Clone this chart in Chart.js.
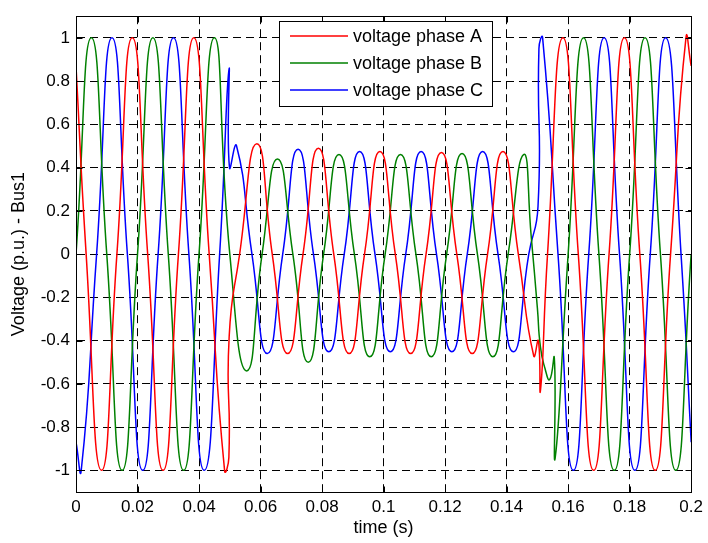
<!DOCTYPE html>
<html>
<head>
<meta charset="utf-8">
<title>Voltage - Bus1</title>
<script src="https://cdn.jsdelivr.net/npm/chart.js@4.4.0/dist/chart.umd.min.js"></script>
<style>
  html, body { margin: 0; padding: 0; background: #fff; }
  #chart { display: block; }
</style>
</head>
<body>
<canvas id="chart" width="708" height="543"></canvas>
<script>
// [time (s), voltage (p.u.)] at peaks, troughs and zero crossings of each phase
const phaseA = [
  [0, 0.87], [0.0033, 0], [0.0083, -1], [0.0133, 0], [0.0183, 1], [0.0233, 0],
  [0.0283, -1], [0.0333, 0], [0.0383, 1], [0.0433, 0], [0.0483, -1], [0.0497, -0.94],
  [0.0498, -0.38], [0.0532, 0], [0.0588, 0.51], [0.0638, 0], [0.0688, -0.46],
  [0.0738, 0], [0.0788, 0.49], [0.0838, 0], [0.0888, -0.46], [0.0938, 0],
  [0.0988, 0.474], [0.1038, 0], [0.1088, -0.46], [0.1138, 0], [0.1188, 0.47],
  [0.1238, 0], [0.1288, -0.46], [0.1338, 0], [0.1388, 0.474], [0.1438, 0],
  [0.1488, -0.47], [0.1503, -0.40], [0.1510, -0.63], [0.1533, 0], [0.1583, 1],
  [0.1633, 0], [0.1683, -1], [0.1733, 0], [0.1783, 1], [0.1833, 0], [0.1883, -1],
  [0.1933, 0], [0.1983, 1], [0.2, 0.87]
];
const phaseB = [
  [0, 0], [0.005, 1], [0.01, 0], [0.015, -1], [0.02, 0], [0.025, 1], [0.03, 0],
  [0.035, -1], [0.04, 0], [0.045, 1], [0.05, 0], [0.0555, -0.54], [0.0605, 0],
  [0.0655, 0.44], [0.0705, 0], [0.0755, -0.50], [0.0805, 0], [0.0855, 0.46],
  [0.0905, 0], [0.0955, -0.475], [0.1005, 0], [0.1055, 0.46], [0.1105, 0],
  [0.1155, -0.475], [0.1205, 0], [0.1255, 0.465], [0.1305, 0], [0.1355, -0.475],
  [0.1405, 0], [0.1455, 0.46], [0.1480, 0.08], [0.1500, -0.25], [0.1510, -0.43],
  [0.1525, -0.53], [0.1540, -0.58], [0.1555, -0.48], [0.1558, -0.94], [0.16, 0],
  [0.165, 1], [0.17, 0], [0.175, -1], [0.18, 0], [0.185, 1], [0.19, 0], [0.195, -1],
  [0.2, 0]
];
const phaseC = [
  [0, -0.87], [0.0017, -1], [0.0067, 0], [0.0117, 1], [0.0167, 0], [0.0217, -1],
  [0.0267, 0], [0.0317, 1], [0.0367, 0], [0.0417, -1], [0.0467, 0], [0.0497, 0.85],
  [0.0499, 0.40], [0.0522, 0.50], [0.0572, 0], [0.0622, -0.46], [0.0672, 0],
  [0.0722, 0.485], [0.0772, 0], [0.0822, -0.452], [0.0872, 0], [0.0922, 0.474],
  [0.0972, 0], [0.1022, -0.452], [0.1072, 0], [0.1122, 0.474], [0.1172, 0],
  [0.1222, -0.452], [0.1272, 0], [0.1322, 0.474], [0.1372, 0], [0.1422, -0.452],
  [0.1472, 0], [0.1502, 0.22], [0.1505, 0.95], [0.1517, 1], [0.1567, 0],
  [0.1617, -1], [0.1667, 0], [0.1717, 1], [0.1767, 0], [0.1817, -1], [0.1867, 0],
  [0.1917, 1], [0.1967, 0], [0.2, -0.87]
];

const seriesLabels = ['voltage phase A', 'voltage phase B', 'voltage phase C'];
const seriesColors = ['#ff0000', '#008000', '#0000ff'];

const xTicks = [0, 0.02, 0.04, 0.06, 0.08, 0.1, 0.12, 0.14, 0.16, 0.18, 0.2];
const xTickLabels = ['0', '0.02', '0.04', '0.06', '0.08', '0.1', '0.12', '0.14', '0.16', '0.18', '0.2'];
const yTicks = [-1, -0.8, -0.6, -0.4, -0.2, 0, 0.2, 0.4, 0.6, 0.8, 1];
const yTickLabels = ['-1', '-0.8', '-0.6', '-0.4', '-0.2', '0', '0.2', '0.4', '0.6', '0.8', '1'];

const FONT = '"Liberation Sans", Arial, Helvetica, sans-serif';
const TICK_LEN = 6;

// solid box round the plot with inward tick marks on all four sides
const frame = {
  id: 'frame',
  afterDatasetsDraw(chart) {
    const { ctx, chartArea: a, scales: { x, y } } = chart;
    const l = Math.round(a.left) + 0.5, r = Math.round(a.right) + 0.5;
    const t = Math.round(a.top) + 0.5, b = Math.round(a.bottom) + 0.5;
    ctx.save();
    ctx.strokeStyle = '#000';
    ctx.lineWidth = 1;
    ctx.beginPath();
    ctx.rect(l, t, r - l, b - t);
    x.ticks.forEach(tk => {
      const px = Math.round(x.getPixelForValue(tk.value)) + 0.5;
      ctx.moveTo(px, b); ctx.lineTo(px, b - TICK_LEN);
      ctx.moveTo(px, t); ctx.lineTo(px, t + TICK_LEN);
    });
    y.ticks.forEach(tk => {
      const py = Math.round(y.getPixelForValue(tk.value)) + 0.5;
      ctx.moveTo(l, py); ctx.lineTo(l + TICK_LEN, py);
      ctx.moveTo(r, py); ctx.lineTo(r - TICK_LEN, py);
    });
    ctx.stroke();
    ctx.restore();
  }
};

// boxed legend in the upper middle of the plot
const boxLegend = {
  id: 'boxLegend',
  afterDraw(chart) {
    const { ctx } = chart;
    const box = { x: 279.5, y: 21.5, w: 213, h: 85 };
    ctx.save();
    ctx.fillStyle = '#fff';
    ctx.fillRect(box.x, box.y, box.w, box.h);
    ctx.strokeStyle = '#000';
    ctx.lineWidth = 1;
    ctx.strokeRect(box.x, box.y, box.w, box.h);
    ctx.font = '18px ' + FONT;
    ctx.textBaseline = 'middle';
    ctx.textAlign = 'left';
    chart.data.datasets.forEach((ds, i) => {
      const rowY = 36 + i * 27;
      ctx.strokeStyle = ds.borderColor;
      ctx.lineWidth = 1.5;
      ctx.beginPath();
      ctx.moveTo(290, rowY);
      ctx.lineTo(348, rowY);
      ctx.stroke();
      ctx.fillStyle = '#000';
      ctx.fillText(ds.label, 353, rowY + 1);
    });
    ctx.restore();
  }
};

const datasets = [phaseA, phaseB, phaseC].map((pts, i) => ({
  label: seriesLabels[i],
  data: pts.map(p => ({ x: p[0], y: p[1] })),
  borderColor: seriesColors[i],
  borderWidth: 1.5,
  pointRadius: 0,
  tension: 0.55,
  fill: false
}));

new Chart(document.getElementById('chart'), {
  type: 'line',
  data: { datasets },
  options: {
    responsive: false,
    animation: false,
    events: [],
    layout: { padding: { top: 9, right: 12, left: 0, bottom: 0 } },
    plugins: {
      legend: { display: false },
      tooltip: { enabled: false }
    },
    scales: {
      x: {
        type: 'linear',
        min: 0,
        max: 0.2,
        afterBuildTicks: s => { s.ticks = xTicks.map(v => ({ value: v })); },
        afterFit: s => { s.height = 51; },
        ticks: {
          autoSkip: false,
          maxRotation: 0,
          padding: 5,
          color: '#000',
          font: { family: FONT, size: 17 },
          callback: (v, i) => xTickLabels[i]
        },
        grid: { color: '#000', lineWidth: 1, drawTicks: false },
        border: { display: true, color: '#000', width: 1, dash: [8, 5] },
        title: {
          display: true,
          text: 'time (s)',
          color: '#000',
          font: { family: FONT, size: 18 },
          padding: { top: 0, bottom: 4 }
        }
      },
      y: {
        type: 'linear',
        min: -1.1,
        max: 1.1,
        afterBuildTicks: s => { s.ticks = yTicks.map(v => ({ value: v })); },
        afterFit: s => { s.width = 76; },
        ticks: {
          autoSkip: false,
          padding: 6,
          color: '#000',
          font: { family: FONT, size: 17 },
          callback: (v, i) => yTickLabels[i]
        },
        grid: { color: '#000', lineWidth: 1, drawTicks: false },
        border: { display: true, color: '#000', width: 1, dash: [8, 5] },
        title: {
          display: true,
          text: 'Voltage (p.u.) - Bus1',
          color: '#000',
          font: { family: FONT, size: 18 },
          padding: { top: 8, bottom: 0 }
        }
      }
    }
  },
  plugins: [frame, boxLegend]
});
</script>
</body>
</html>
